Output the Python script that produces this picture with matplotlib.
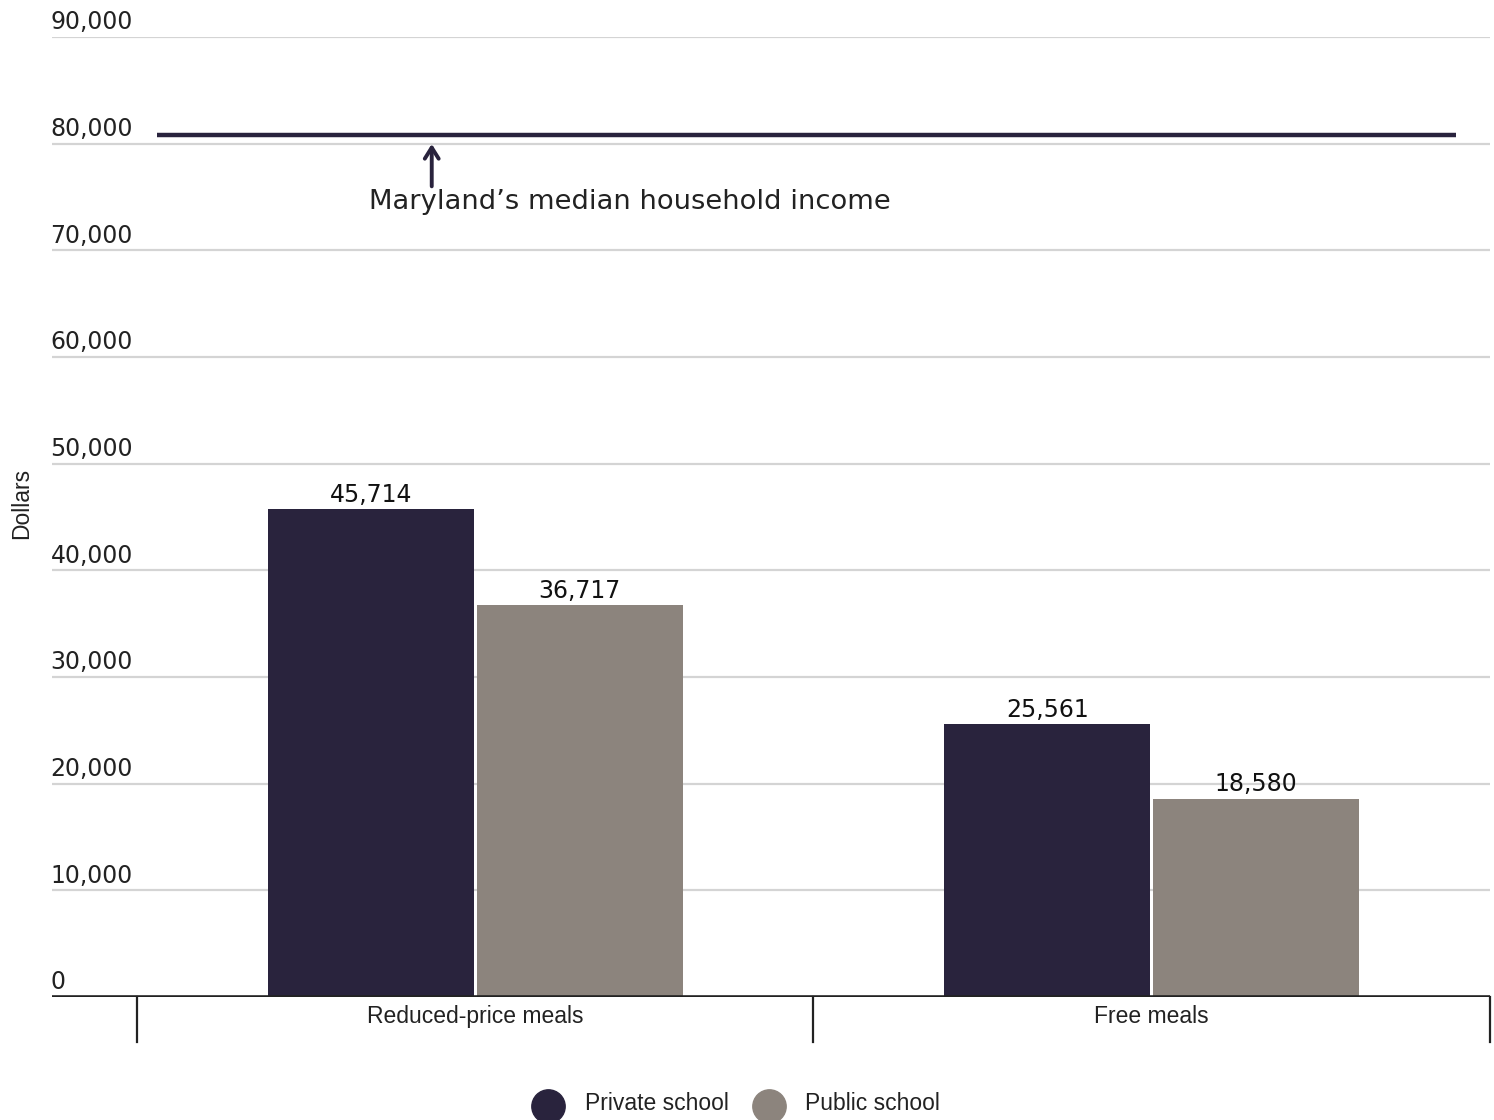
import matplotlib
matplotlib.use("Agg")
import matplotlib.pyplot as plt
from matplotlib.lines import Line2D
import numpy as np

# ---- data ----
categories = ["Reduced-price meals", "Free meals"]
series_names = ["Private school", "Public school"]
private_vals = [45714, 25561]
public_vals = [36717, 18580]
median_income = 80776
yticks = [0, 10000, 20000, 30000, 40000, 50000, 60000, 70000, 80000, 90000]

c_private = "#29233d"
c_public = "#8c847d"
grid_c = "#d4d4d4"

W, H = 1494, 1120
fig = plt.figure(figsize=(W / 100, H / 100), dpi=100)
ax = fig.add_axes([52 / W, 1 - 997 / H, (1490 - 52) / W, (997 - 37) / H])

x = np.arange(len(categories))
bw = 0.305
off = 0.1545
ax.bar(x - off, private_vals, width=bw, color=c_private, zorder=3)
ax.bar(x + off, public_vals, width=bw, color=c_public, zorder=3)

ax.set_ylim(0, 90000)
ax.set_xlim(-0.5 - 85 / 677, 1.5)

# gridlines
for t in yticks[1:]:
    ax.axhline(t, color=grid_c, lw=1.6, zorder=1)
ax.axhline(0, color="#222222", lw=2.6, zorder=4)

# tick labels above gridlines
for t in yticks:
    ax.annotate(f"{t:,}", (0, t), xycoords=ax.get_yaxis_transform(),
                xytext=(-1, 2), textcoords="offset points",
                ha="left", va="bottom", fontsize=17, color="#222222",
                family="DejaVu Sans")

# value labels
for xi, v in zip(x - off, private_vals):
    ax.annotate(f"{v:,}", (xi, v), xytext=(0, 2), textcoords="offset points",
                ha="center", va="bottom", fontsize=17, color="#111111")
for xi, v in zip(x + off, public_vals):
    ax.annotate(f"{v:,}", (xi, v), xytext=(0, 2), textcoords="offset points",
                ha="center", va="bottom", fontsize=17, color="#111111")

# median income line
ax.plot([-0.5 + 20 / 677, -0.5 + 1320 / 677], [median_income, median_income],
        color=c_private, lw=3.2, solid_capstyle="butt", zorder=5)
ax.annotate("", xy=(-0.5 + 295 / 677, median_income - 800),
            xytext=(-0.5 + 295 / 677, 76000),
            arrowprops=dict(arrowstyle="->,head_length=0.8,head_width=0.5",
                            color=c_private, lw=2.8, shrinkA=0, shrinkB=0))
ax.text(-0.5 + 232 / 677, 74500, "Maryland\u2019s median household income",
        ha="left", va="center", fontsize=19.7, color="#222222")

# axes styling
for s in ax.spines.values():
    s.set_visible(False)
ax.set_xticks([])
ax.set_yticks([])

# category dividers and labels
for d in [-0.5, 0.5, 1.5]:
    ax.plot([d, d], [0, -4200], color="#222222", lw=1.6, clip_on=False)
for xi, c in zip(x, categories):
    ax.text(xi, -1800, c, ha="center", va="center", fontsize=16.5,
            family="Liberation Sans", color="#222222")

# y axis title
fig.text(22 / W, 1 - 503 / H, "Dollars", rotation=90, ha="center", va="center",
         fontsize=16.5, family="Liberation Sans", color="#222222")

# legend (manual)
for cx, tx, col, name in [(548, 585, c_private, series_names[0]),
                          (769, 805, c_public, series_names[1])]:
    fig.add_artist(Line2D([cx / W], [1 - 1106 / H], marker="o", markersize=24,
                          color=col, transform=fig.transFigure))
    fig.text(tx / W, 1 - 1103 / H, name, ha="left", va="center", fontsize=16.5,
             family="Liberation Sans", color="#222222")

fig.savefig("out.png", dpi=100, facecolor="white")
